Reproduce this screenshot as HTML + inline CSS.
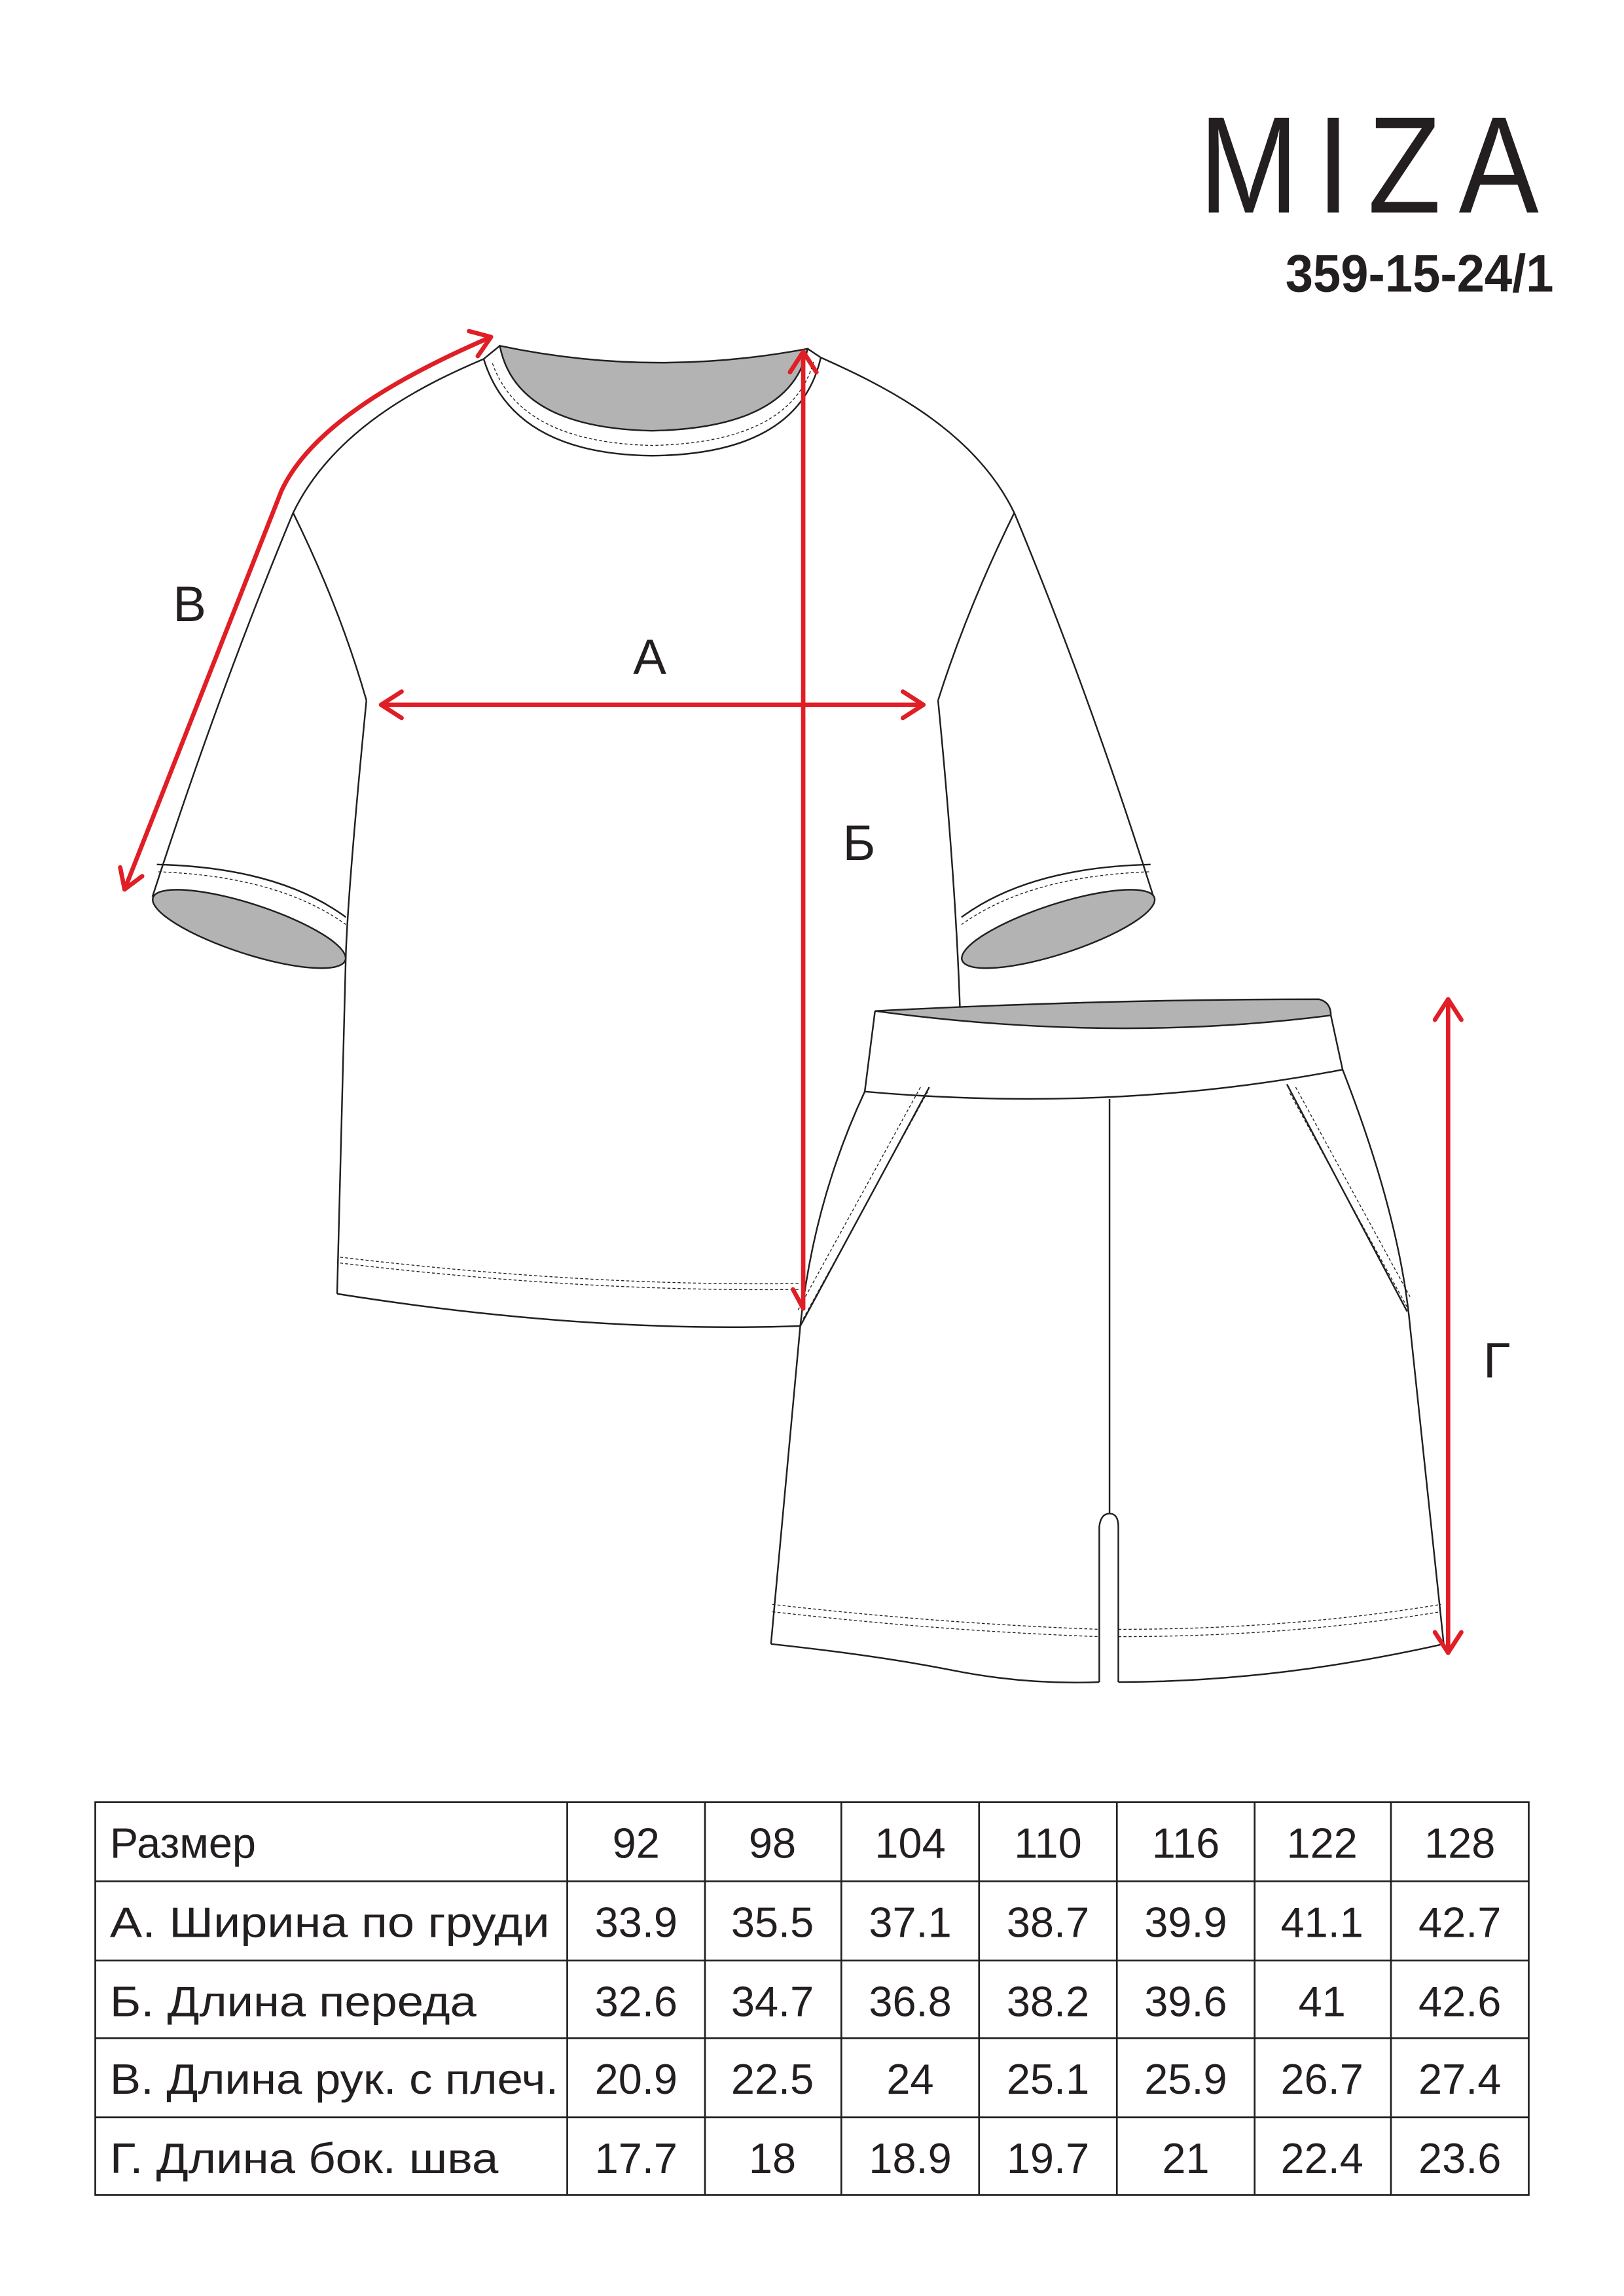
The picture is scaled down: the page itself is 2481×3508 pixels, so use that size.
<!DOCTYPE html>
<html><head><meta charset="utf-8"><style>
html,body{margin:0;padding:0;background:#fff}
svg{display:block}
text{font-family:"Liberation Sans",sans-serif;fill:#231f20}
</style></head><body>
<svg width="2481" height="3508" viewBox="0 0 1108 1567" preserveAspectRatio="none" xmlns="http://www.w3.org/2000/svg">
<rect width="1108" height="1567" fill="#fff"/>
<text x="1062" y="145" text-anchor="end" font-size="94" letter-spacing="14" style="font-weight:normal" textLength="244" lengthAdjust="spacingAndGlyphs">MIZA</text>
<text x="1060" y="199" text-anchor="end" font-size="36" font-weight="bold" textLength="183" lengthAdjust="spacingAndGlyphs">359-15-24/1</text>

<g fill="none" stroke="#231f20" stroke-width="1.1">
<!-- T-shirt -->
<path d="M341,236 Q445,258 551,238 Q540,292 445,294 Q352,292 341,236 Z" fill="#b3b3b3"/>
<path d="M330,245 Q350,310 445,311 Q545,310 560,244"/>
<path d="M336,248 Q355,302 445,304 Q540,302 555,247" stroke-dasharray="2,1.5" stroke-width="0.6"/>
<path d="M330,245 L341,236 M551,238 L560,244"/>
<path d="M330,245 C290,262 228,292 200,350"/>
<path d="M200,350 Q150,470 104,612"/>
<path d="M200,350 Q232,415 250,478"/>
<path d="M250,478 Q238,600 236,650 L230,883"/>
<path d="M230,883 Q400,910 546,905"/>
<path d="M232,858 Q400,878 546,876 M232,862 Q400,882 546,880" stroke-dasharray="2,1.5" stroke-width="0.6"/>
<path d="M560,244 C600,262 664,292 692,350"/>
<path d="M692,350 Q742,470 787,612"/>
<path d="M692,350 Q660,415 640,478"/>
<path d="M640,478 Q652,600 655,690"/>
<ellipse cx="170" cy="634" rx="69" ry="17" transform="rotate(18 170 634)" fill="#b3b3b3"/>
<ellipse cx="722" cy="634" rx="69" ry="17" transform="rotate(-18 722 634)" fill="#b3b3b3"/>
<path d="M107,590 Q190,592 236,626" />
<path d="M108,595 Q190,598 236,631" stroke-dasharray="2,1.5" stroke-width="0.6"/>
<path d="M785,590 Q702,592 656,626"/>
<path d="M784,595 Q702,598 656,631" stroke-dasharray="2,1.5" stroke-width="0.6"/>
<!-- Shorts -->
<path d="M546,905 L655,905 L655,690 Z" fill="#fff" stroke="none"/>
<path d="M590,745 L916,730 L985,1122 L526,1122 Z" fill="#fff" stroke="none"/>
<path d="M597,690 Q750,682 900,682 Q908,684 908,693 Q760,712 597,690 Z" fill="#b3b3b3"/>
<path d="M597,690 L590,745 M908,693 L916,730"/>
<path d="M590,745 Q760,760 916,730"/>
<path d="M590,745 Q555,820 546,905 L526,1122"/>
<path d="M916,730 Q955,830 962,905 L985,1122"/>
<path d="M526,1122 Q600,1130 650,1140 Q700,1150 750,1148"/>
<path d="M750,1148 L750,1042 Q751,1033 757,1033 Q763,1033 763,1042 L763,1148"/>
<path d="M757,750 L757,1033"/>
<path d="M763,1148 Q870,1148 985,1122"/>
<path d="M634,742 L546,905"/>
<path d="M628,742 L544,895 M633,745 L548,900" stroke-dasharray="2,1.5" stroke-width="0.6"/>
<path d="M878,740 L960,895"/>
<path d="M884,742 L962,885 M880,746 L960,892" stroke-dasharray="2,1.5" stroke-width="0.6"/>
<path d="M527,1095 Q640,1108 750,1112 M527,1100 Q640,1113 750,1117 M763,1112 Q880,1112 983,1095 M763,1117 Q880,1117 983,1100" stroke-dasharray="2,1.5" stroke-width="0.6"/>
</g>

<g fill="none" stroke="#e01e26" stroke-width="3" stroke-linecap="round" stroke-linejoin="round">
<path d="M260,481 L630,481"/>
<path d="M274,472 L260,481 L274,490 M616,472 L630,481 L616,490"/>
<path d="M548,240 L548,893"/>
<path d="M539,254 L548,240 L557,254 M541,880 L548,893"/>
<path d="M335,230 C270,258 212,292 192,335 L85,607"/>
<path d="M320,226 L335,230 L326,243 M82,592 L85,607 L97,598"/>
<path d="M988,682 L988,1128"/>
<path d="M979,696 L988,682 L997,696 M979,1114 L988,1128 L997,1114"/>
</g>
<g font-size="34">
<text x="118" y="424">В</text>
<text x="432" y="460">А</text>
<text x="575" y="587">Б</text>
<text x="1012" y="940">Г</text>
</g>

<!-- Table -->
<g stroke="#231f20" stroke-width="1.2" fill="none">
<rect x="65" y="1230" width="978" height="268"/>
<path d="M65,1284 H1043 M65,1338 H1043 M65,1391 H1043 M65,1445 H1043"/>
<path d="M387,1230 V1498 M481,1230 V1498 M574,1230 V1498 M668,1230 V1498 M762,1230 V1498 M856,1230 V1498 M949,1230 V1498"/>
</g>
<g font-size="29">
<text x="75" y="1268">Размер</text>
<text x="75" y="1322" textLength="300" lengthAdjust="spacingAndGlyphs">А. Ширина по груди</text>
<text x="75" y="1376" textLength="250" lengthAdjust="spacingAndGlyphs">Б. Длина переда</text>
<text x="75" y="1429" textLength="306" lengthAdjust="spacingAndGlyphs">В. Длина рук. с плеч.</text>
<text x="75" y="1483" textLength="265" lengthAdjust="spacingAndGlyphs">Г. Длина бок. шва</text>
</g>
<g font-size="29" text-anchor="middle">
<text x="434" y="1268">92</text><text x="527" y="1268">98</text><text x="621" y="1268">104</text><text x="715" y="1268">110</text><text x="809" y="1268">116</text><text x="902" y="1268">122</text><text x="996" y="1268">128</text>
<text x="434" y="1322">33.9</text><text x="527" y="1322">35.5</text><text x="621" y="1322">37.1</text><text x="715" y="1322">38.7</text><text x="809" y="1322">39.9</text><text x="902" y="1322">41.1</text><text x="996" y="1322">42.7</text>
<text x="434" y="1376">32.6</text><text x="527" y="1376">34.7</text><text x="621" y="1376">36.8</text><text x="715" y="1376">38.2</text><text x="809" y="1376">39.6</text><text x="902" y="1376">41</text><text x="996" y="1376">42.6</text>
<text x="434" y="1429">20.9</text><text x="527" y="1429">22.5</text><text x="621" y="1429">24</text><text x="715" y="1429">25.1</text><text x="809" y="1429">25.9</text><text x="902" y="1429">26.7</text><text x="996" y="1429">27.4</text>
<text x="434" y="1483">17.7</text><text x="527" y="1483">18</text><text x="621" y="1483">18.9</text><text x="715" y="1483">19.7</text><text x="809" y="1483">21</text><text x="902" y="1483">22.4</text><text x="996" y="1483">23.6</text>
</g>
</svg>
</body></html>
